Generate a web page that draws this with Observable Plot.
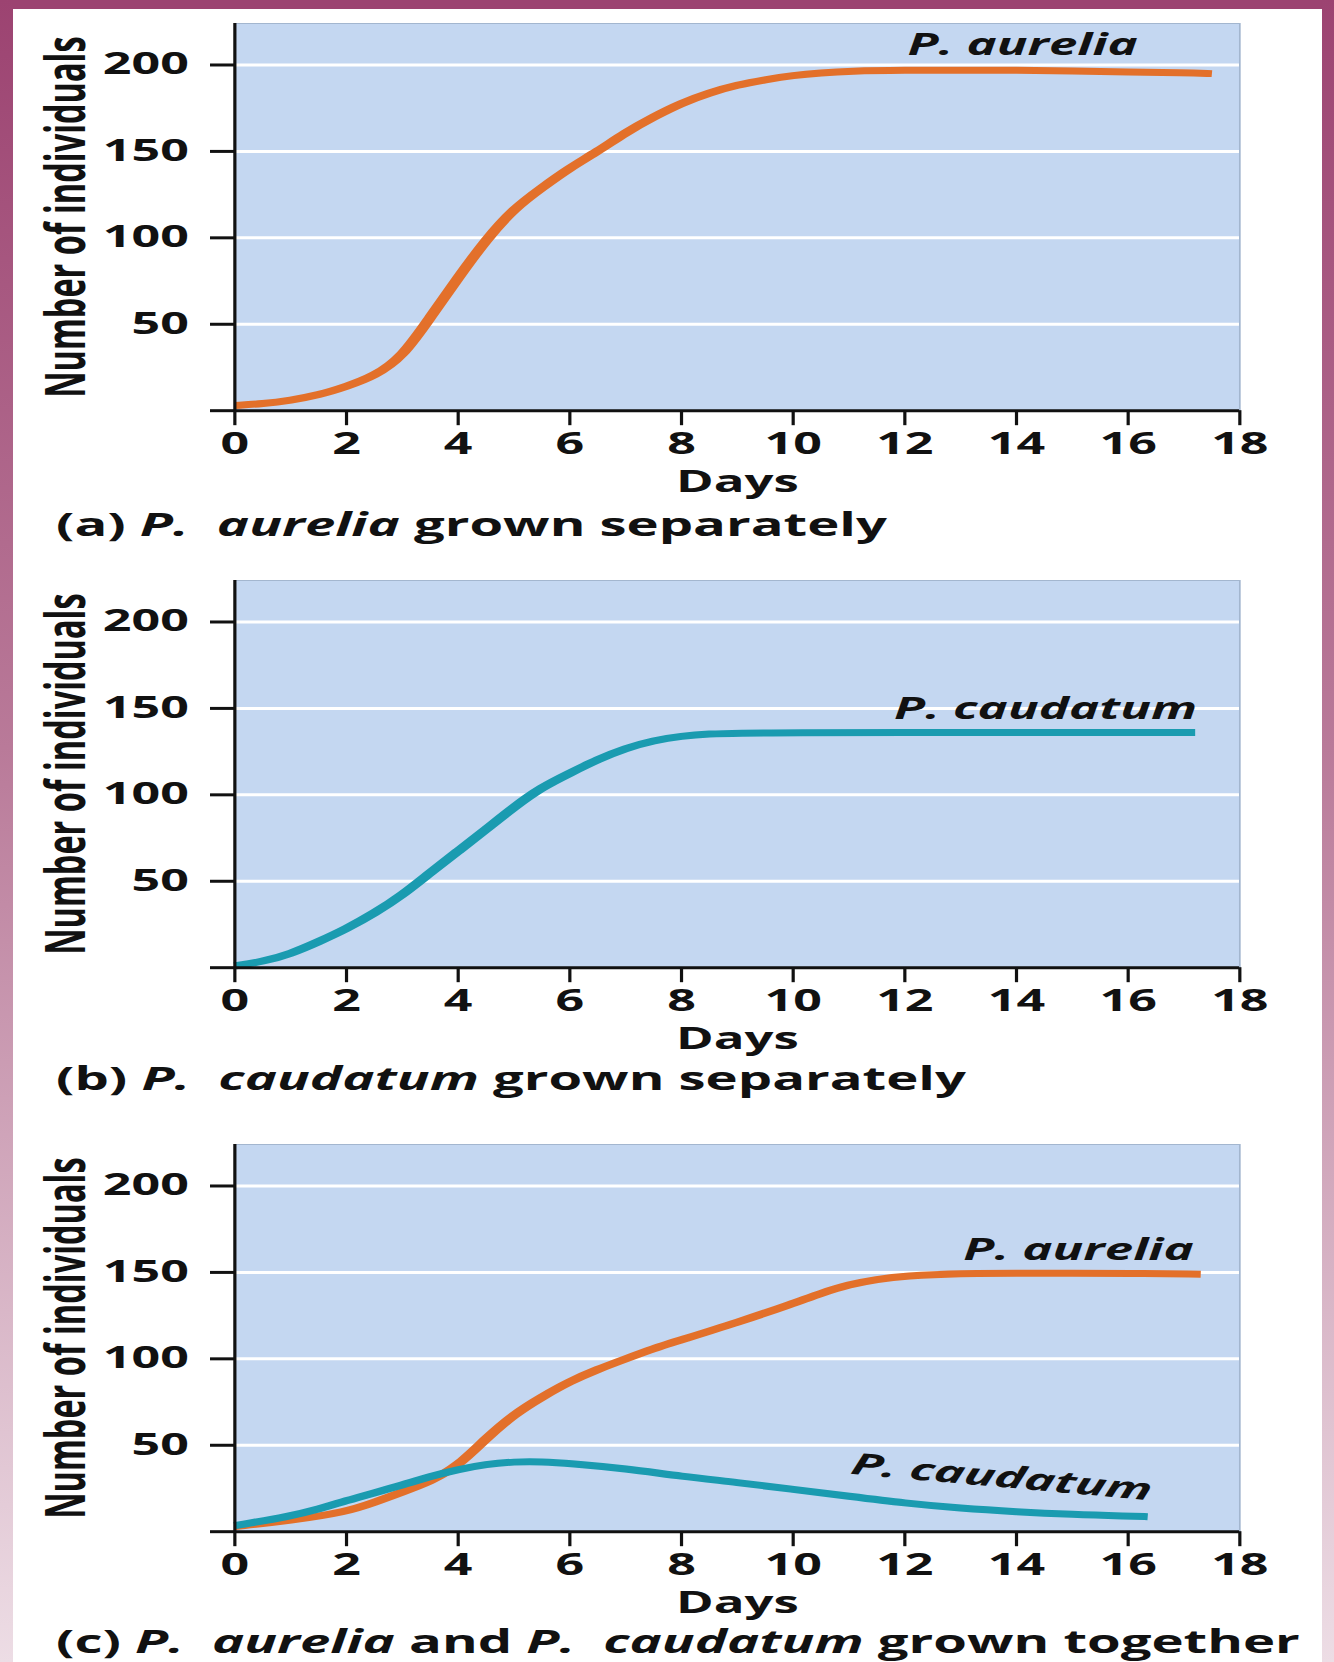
<!DOCTYPE html>
<html>
<head>
<meta charset="utf-8">
<script src="https://cdn.jsdelivr.net/npm/d3@7"></script>
<script src="https://cdn.jsdelivr.net/npm/@observablehq/plot@0.6"></script>
<style>
  html, body { margin: 0; padding: 0; background: #ffffff; }
  body { width: 1334px; height: 1662px; position: relative; overflow: hidden; font-family: "Open Sans", sans-serif; }
  .band { position: absolute; z-index: 5; }
  #bandTop { left: 0; top: 0; width: 1334px; height: 9px; background: #9c4371; }
  #bandLeft { left: 0; top: 0; width: 13px; height: 1662px; background: linear-gradient(#9c4371, #b97a99 45%, #eddde5); }
  #bandRight { left: 1322px; top: 0; width: 12px; height: 1662px; background: linear-gradient(#9c4371, #b97a99 45%, #eddde5); }
  #stretch { position: absolute; left: 0; top: 0; height: 1662px; transform-origin: 0 0; }
  .panel { position: absolute; left: 0; }
  .caption { position: absolute; font-weight: 700; color: #111; white-space: nowrap; }
  .caption i { font-style: italic; }
</style>
</head>
<body>
<div class="band" id="bandTop"></div>
<div class="band" id="bandLeft"></div>
<div class="band" id="bandRight"></div>
<div id="stretch"></div>
<script>
// ---- data ----
const xTicks = [0, 2, 4, 6, 8, 10, 12, 14, 16, 18];
const yTicks = [0, 50, 100, 150, 200];
const gridValues = [50, 100, 150, 200];
const yTitle = "Number of individuals";
const xTitle = "Days";

// (a) P. aurelia grown separately
const daysA = [0, 0.5, 1, 1.5, 2, 2.5, 3, 3.5, 4, 4.5, 5, 5.5, 6, 6.5, 7, 7.5, 8, 8.5, 9, 9.5, 10, 10.5, 11, 12, 13, 14, 15, 16, 17, 17.5];
const aureliaAlone = [3, 4, 6, 9, 14, 20, 31, 54, 77, 99, 117, 129, 140.5, 150, 161, 170, 178, 184, 188.5, 191.5, 194, 195.5, 196.5, 197, 197, 197, 196.5, 196, 195.5, 195];

// (b) P. caudatum grown separately
const daysB = [0, 0.5, 1, 1.5, 2, 2.5, 3, 3.5, 4, 4.5, 5, 5.5, 6, 6.5, 7, 7.5, 8, 8.5, 9, 10, 12, 14, 16, 17.2];
const caudatumAlone = [1, 3.5, 8, 15, 22.5, 31.5, 42, 55, 67.5, 80, 93, 104.5, 112.5, 120.5, 127, 131.5, 134, 135.3, 135.7, 136, 136, 136, 136, 136];

// (c) grown together
const daysCA = [0, 1, 2, 2.5, 3, 3.5, 4, 4.5, 5, 5.5, 6, 6.5, 7, 7.5, 8, 9, 10, 10.5, 11, 11.5, 12, 13, 14, 15, 16, 17.3];
const aureliaTogether = [3, 6.5, 11.5, 17, 23, 29, 38, 54, 68, 78, 87, 94, 100, 106, 111, 121, 132, 138, 143, 146, 148, 149.5, 149.5, 149.5, 149.5, 149];
const daysCC = [0, 1, 1.5, 2, 2.5, 3, 3.5, 4, 4.5, 5, 5.5, 6, 7, 8, 9, 10, 11, 12, 13, 14, 15, 16, 16.35];
const caudatumTogether = [3.5, 9, 13, 18, 22.5, 27, 32, 36, 39, 40.5, 40.5, 39.5, 36.5, 32, 28.5, 24.5, 20.5, 16.5, 13.5, 11.5, 10, 9, 8.7];

const speciesA = "P. aurelia";
const speciesC = "P. caudatum";
const captions = [
  ["(a) ", "P.\u00a0 aurelia", " grown separately"],
  ["(b) ", "P.\u00a0 caudatum", " grown separately"],
  ["(c) ", "P.\u00a0 aurelia", " and ", "P.\u00a0 caudatum", " grown together"]
];

// ---- build ----
const ORANGE = "#e3702a";
const TEAL = "#1a9bb0";
const INK = "#111111";
const toRows = (days, vals) => days.map((d, i) => ({day: d, value: vals[i]}));

// The reference figure is stretched horizontally; draw at natural width and stretch by S.
const S = 1.7;
const W = 1334 / S;
const MT = 10, PH = 387.2, MB = 95;
const ML = 234 / S, MR = (1334 - 1239) / S;
const stretch = document.getElementById("stretch");
stretch.style.width = W + "px";
stretch.style.transform = `scaleX(${S})`;

function panel(series) {
  const marks = [
    Plot.frame({fill: "#c4d7f1", stroke: "#a3b6cf", strokeWidth: 1}),
    Plot.ruleY(gridValues, {stroke: "#ffffff", strokeWidth: 3})
  ];
  for (const s of series) {
    marks.push(Plot.line(s.rows, {x: "day", y: "value", stroke: s.color, strokeWidth: 7, curve: "basis", strokeLinecap: "butt"}));
    marks.push(Plot.text(s.rows, Plot.selectLast({
      x: "day", y: "value", text: () => s.label, textAnchor: "end", lineAnchor: "middle",
      dx: s.dx / S, dy: s.dy, rotate: s.rotate || 0,
      fontSize: 30, fontWeight: 700, fontStyle: "italic", fill: INK
    })));
  }
  marks.push(
    Plot.ruleX([0], {stroke: INK, strokeWidth: 3.2 / S}),
    Plot.ruleY([0], {stroke: INK, strokeWidth: 3}),
    Plot.axisY({ticks: yTicks, tickSize: 24 / S, tickPadding: 22 / S, fontSize: 29.5, strokeWidth: 3, stroke: INK, fill: INK,
                tickFormat: d => d === 0 ? "" : String(d), label: null}),
    Plot.axisX({ticks: xTicks, tickSize: 15, tickPadding: 7, fontSize: 29.5, strokeWidth: 3.2 / S, stroke: INK, fill: INK,
                tickFormat: d => String(d), label: null}),
    Plot.text([xTitle], {frameAnchor: "bottom", dy: 72, lineAnchor: "middle", textAnchor: "middle", text: d => d, fontSize: 30, fontWeight: 700, fill: INK}),
    Plot.text([yTitle], {frameAnchor: "left", dx: -(234 - 66) / S, rotate: -90, textAnchor: "middle", lineAnchor: "middle", text: d => d, fontSize: 32.5, fontWeight: 700, fill: INK})
  );
  return Plot.plot({
    width: W, height: MT + PH + MB,
    marginTop: MT, marginBottom: MB, marginLeft: ML, marginRight: MR,
    x: {domain: [0, 18]},
    y: {domain: [0, 224]},
    style: {fontFamily: "'Open Sans', sans-serif", fontWeight: 700, color: INK, background: "transparent", overflow: "visible", maxWidth: "none"},
    marks
  });
}

const panels = [
  {top: 22.8, capCenter: 524.5, series: [
    {rows: toRows(daysA, aureliaAlone), color: ORANGE, label: speciesA, dx: -74, dy: -28}
  ]},
  {top: 579.5, capCenter: 1078.6, series: [
    {rows: toRows(daysB, caudatumAlone), color: TEAL, label: speciesC, dx: 2, dy: -23}
  ]},
  {top: 1144.2, capCenter: 1642, series: [
    {rows: toRows(daysCA, aureliaTogether), color: ORANGE, label: speciesA, dx: -7, dy: -24},
    {rows: toRows(daysCC, caudatumTogether), color: TEAL, label: speciesC, dx: 4, dy: -26, rotate: 8.5}
  ]}
];

const CAP_SIZE = 32;
panels.forEach((p, i) => {
  const wrap = document.createElement("div");
  wrap.className = "panel";
  wrap.style.top = (p.top - MT) + "px";
  wrap.appendChild(panel(p.series));
  stretch.appendChild(wrap);

  const cap = document.createElement("div");
  cap.className = "caption";
  cap.style.left = (56 / S) + "px";
  cap.style.fontSize = CAP_SIZE + "px";
  cap.style.lineHeight = CAP_SIZE + "px";
  cap.style.top = (p.capCenter - 17) + "px";
  captions[i].forEach((part, j) => {
    if (j % 2 === 1) {
      const it = document.createElement("i");
      it.textContent = part;
      cap.appendChild(it);
    } else {
      cap.appendChild(document.createTextNode(part));
    }
  });
  stretch.appendChild(cap);
});
</script>
</body>
</html>
